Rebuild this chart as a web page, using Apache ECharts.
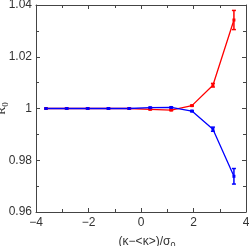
<!DOCTYPE html>
<html><head><meta charset="utf-8">
<script src="https://cdn.jsdelivr.net/npm/echarts@6/dist/echarts.min.js"></script>
<style>html,body{margin:0;padding:0;background:#fff}#c{width:249px;height:246px}</style>
</head><body><div id="c"></div>
<script>
const xValues = [-3.62, -2.83, -2.03, -1.24, -0.45, 0.35, 1.15, 1.94, 2.74, 3.54];
const redY    = [1.0, 1.0, 1.0, 1.0, 1.0, 0.9997, 0.9994, 1.0011, 1.0090, 1.0342];
const redErr  = [0.0001, 0.0001, 0.0001, 0.0001, 0.0001, 0.0002, 0.0002, 0.0002, 0.0007, 0.0037];
const blueY   = [1.0, 1.0, 1.0, 1.0, 1.0, 1.0003, 1.0004, 0.9990, 0.9920, 0.9738];
const blueErr = [0.0001, 0.0001, 0.0001, 0.0001, 0.0001, 0.0002, 0.0002, 0.0002, 0.0008, 0.0030];
const xTicks = [-4, -2, 0, 2, 4];
const yTicks = [0.96, 0.98, 1, 1.02, 1.04];

const chart = echarts.init(document.getElementById('c'));
const font = 'Liberation Sans, Arial, sans-serif';
const axisCol = '#444';

function errSeries(ys, errs, color) {
  return {
    type: 'custom', silent: true, z: 3,
    data: xValues.map((x, i) => [x, ys[i] - errs[i], ys[i] + errs[i]]),
    renderItem: function (params, api) {
      const lo = api.coord([api.value(0), api.value(1)]);
      const hi = api.coord([api.value(0), api.value(2)]);
      const w = 2;
      const st = {stroke: color, lineWidth: 1.5};
      return {type: 'group', children: [
        {type: 'line', shape: {x1: lo[0], y1: lo[1], x2: hi[0], y2: hi[1]}, style: st},
        {type: 'line', shape: {x1: lo[0]-w, y1: lo[1], x2: lo[0]+w, y2: lo[1]}, style: st},
        {type: 'line', shape: {x1: hi[0]-w, y1: hi[1], x2: hi[0]+w, y2: hi[1]}, style: st}
      ]};
    }
  };
}
function lineSeries(ys, color) {
  return {
    type: 'line', data: xValues.map((x, i) => [x, ys[i]]),
    symbol: 'rect', symbolSize: 3, showSymbol: true,
    lineStyle: {color: color, width: 1.3}, itemStyle: {color: color}, z: 4
  };
}
const axisCommon = {
  axisLine: {show: true, onZero: false, lineStyle: {color: axisCol, width: 1}},
  axisTick: {show: true, inside: true, length: 4, lineStyle: {color: axisCol}},
  minorTick: {show: true, splitNumber: 2, length: 3, lineStyle: {color: axisCol}},
  splitLine: {show: false},
  nameMoveOverlap: false
};
chart.setOption({
  animation: false,
  grid: {left: 36, right: 3, top: 5, bottom: 34, containLabel: false, outerBoundsMode: 'none'},
  xAxis: [
    Object.assign({type: 'value', min: -4, max: 4, interval: 2, position: 'bottom',
      axisLabel: {color: '#333', fontSize: 12, fontFamily: font, margin: 5,
        formatter: v => xTicks.includes(v) ? String(v).replace('-', '\u2212') : ''},
      name: '(\u03ba\u2212<\u03ba>)/\u03c3{s|0}', nameLocation: 'middle', nameGap: 22,
      nameTextStyle: {color: '#333', fontSize: 12, fontFamily: font, padding: [0, 0, 0, 12],
        rich: {s: {fontSize: 9, verticalAlign: 'bottom', padding: [7, 0, 0, 0], color: '#333'}}}
    }, axisCommon),
    Object.assign({type: 'value', min: -4, max: 4, interval: 2, position: 'top',
      axisLabel: {show: false}}, axisCommon)
  ],
  yAxis: [
    Object.assign({type: 'value', min: 0.96, max: 1.04, interval: 0.02, position: 'left',
      axisLabel: {color: '#333', fontSize: 12, fontFamily: font, margin: 4,
        formatter: v => { const r = Math.round(v * 100) / 100; return yTicks.includes(r) ? String(r) : ''; }},
      name: 'R{s|0}', nameLocation: 'middle', nameGap: 26, nameRotate: 90,
      nameTextStyle: {color: '#333', fontSize: 12, fontFamily: 'Liberation Serif, serif',
        rich: {s: {fontSize: 9, fontFamily: 'Liberation Serif, serif', padding: [7, 0, 0, 0], color: '#333'}}}
    }, axisCommon),
    Object.assign({type: 'value', min: 0.96, max: 1.04, interval: 0.02, position: 'right',
      axisLabel: {show: false}}, axisCommon)
  ],
  series: [
    lineSeries(redY, '#ff0000'), errSeries(redY, redErr, '#ff0000'),
    lineSeries(blueY, '#0000ff'), errSeries(blueY, blueErr, '#0000ff')
  ]
});
</script></body></html>
